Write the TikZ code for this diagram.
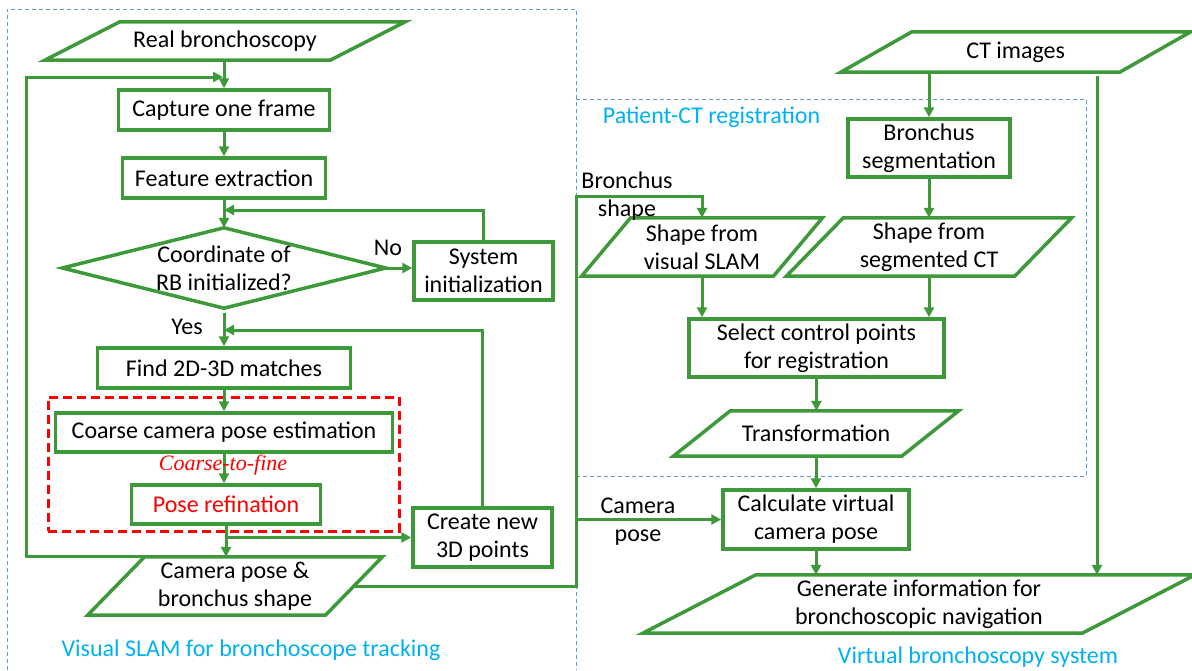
\documentclass[tikz,border=0pt]{standalone}
\usepackage{fontspec}
\setmainfont{Carlito}
\newfontfamily\annotfont{Liberation Serif}
\usetikzlibrary{arrows.meta,calc}
\definecolor{flowgreen}{RGB}{61,153,57}
\definecolor{groupblue}{RGB}{91,155,213}
\definecolor{grouptext}{RGB}{0,176,240}
% parallelogram (input/output) drawn around a named text node
\newcommand\slantbox[2]{%
  \draw[boxline] ([xshift=-#2]#1.south west) -- ([xshift=#2]#1.north west)
    -- ([xshift=#2]#1.north east) -- ([xshift=-#2]#1.south east) -- cycle;}
\begin{document}
\begin{tikzpicture}[x=1pt,y=-1pt,
  font=\fontsize{24}{28}\selectfont,
  boxline/.style={draw=flowgreen, line width=3.5pt},
  procbox/.style={draw=flowgreen, line width=3.5pt, fill=white, inner sep=0pt, align=center},
  iobox/.style={inner sep=0pt, align=center},
  flow/.style={draw=flowgreen, line width=3pt, -{Triangle[length=10pt,width=10pt]}},
  group/.style={draw=groupblue, line width=1pt, dash pattern=on 4pt off 3pt},
  grouplabel/.style={text=grouptext, inner sep=0pt},
  note/.style={inner sep=0pt, align=center},
]
\useasboundingbox (0,0) rectangle (1192,670);

% group frames
\draw[group] (7,670) -- (7,9) -- (576,9) -- (576,670);
\node[group, minimum width=510pt, minimum height=377pt] (pctbox) at (831,287.5) {};
\node[draw=red, line width=3pt, dash pattern=on 9pt off 5pt, minimum width=351pt, minimum height=134pt] (finegroup) at (223.5,464) {};

% tracking column
\node[iobox, minimum width=285pt, minimum height=38pt] (rb) at (225,41) {Real bronchoscopy};
\slantbox{rb}{37.5pt}
\node[procbox, minimum width=211pt, minimum height=40pt] (cap) at (224,110) {Capture one frame};
\node[procbox, minimum width=203pt, minimum height=40pt] (feat) at (224,178) {Feature extraction};
\node[iobox, minimum width=323pt, minimum height=80pt] (dec) at (224,268) {Coordinate of\\RB initialized?};
\draw[boxline] (dec.west) -- (dec.north) -- (dec.east) -- (dec.south) -- cycle;
\node[procbox, minimum width=139pt, minimum height=58pt] (sysinit) at (483.5,271) {System\\initialization};
\node[procbox, minimum width=253pt, minimum height=40pt] (match) at (224,368) {Find 2D-3D matches};
\node[procbox, minimum width=337pt, minimum height=39pt] (coarse) at (224,432.5) {Coarse camera pose estimation};
\node[procbox, minimum width=189pt, minimum height=39pt, text=red] (refine) at (226,504.5) {Pose refination};
\node[procbox, minimum width=139pt, minimum height=59pt] (newpts) at (482.5,537.5) {Create new\\3D points};
\node[iobox, minimum width=237.5pt, minimum height=58pt] (camout) at (235,586) {Camera pose \&\\bronchus shape};
\slantbox{camout}{28.5pt}

% registration and virtual bronchoscopy column
\node[iobox, minimum width=278.5pt, minimum height=40pt] (ct) at (1015.75,52) {CT images};
\slantbox{ct}{35.5pt}
\node[procbox, minimum width=162pt, minimum height=58pt] (seg) at (929,148) {Bronchus\\segmentation};
\node[iobox, minimum width=191.5pt, minimum height=58pt] (slamshape) at (702,247) {Shape from\\visual SLAM};
\slantbox{slamshape}{24.5pt}
\node[iobox, minimum width=228pt, minimum height=58pt] (ctshape) at (929,247) {Shape from\\segmented CT};
\slantbox{ctshape}{28.5pt}
\node[procbox, minimum width=255pt, minimum height=58pt] (ctrl) at (816.5,348) {Select control points\\for registration};
\node[iobox, minimum width=228pt, minimum height=45pt] (trans) at (816,433.5) {Transformation};
\slantbox{trans}{28.5pt}
\node[procbox, minimum width=186pt, minimum height=59pt] (vcam) at (816,519.5) {Calculate virtual\\camera pose};
\node[iobox, minimum width=439pt, minimum height=58pt] (nav) at (919,604) {Generate information for\\bronchoscopic navigation};
\slantbox{nav}{56.5pt}

% junction points
\coordinate (initjoin) at (224,210);
\coordinate (mapjoin) at (224,330);
\coordinate (looptop) at (26,77);
\coordinate (framejoin) at (223,77);
\coordinate (busturn) at (576,196);
\coordinate (ctdown) at (1097,72);

% tracking loop connectors
\draw[flow] (cap.north |- rb.south) -- (cap.north);
\draw[flow] (cap.south) -- (feat.north);
\draw[flow] (feat.south) -- (dec.north);
\draw[flow] (dec.east) -- (dec.east -| sysinit.west);
\draw[flow] (sysinit.north) |- (initjoin);
\draw[flow, shorten <=5pt] (dec.south) -- (dec.south |- match.north);
\draw[flow] (match.south) -- (coarse.north);
\draw[flow] (coarse.south) -- (coarse.south |- refine.north);
\draw[flow] (refine.south) -- (refine.south |- camout.north);
\draw[flow] (refine.south |- newpts.west) -- (newpts.west);
\draw[flow] (newpts.north) |- (mapjoin);
\draw[flow] ([xshift=28.5pt]camout.north west) -| (looptop) -- (framejoin);

% outputs of tracking
\draw[flow] (camout.east) -| (busturn) -| (slamshape.north);
\draw[flow] (busturn |- vcam.west) -- (vcam.west);

% registration connectors
\draw[flow] (ct.south -| seg.north) -- (seg.north);
\draw[flow, shorten <=4pt] (ctdown) -- (ctdown |- nav.north);
\draw[flow] (seg.south) -- (seg.south |- ctshape.north);
\draw[flow] (slamshape.south) -- (slamshape.south |- ctrl.north);
\draw[flow] (ctshape.south) -- (ctshape.south |- ctrl.north);
\draw[flow] (ctrl.south) -- (ctrl.south |- trans.north);
\draw[flow] (trans.south) -- (trans.south |- vcam.north);
\draw[flow] (vcam.south) -- (vcam.south |- nav.north);

% labels
\node[note] (nolabel) at (388,248) {No};
\node[note] (yeslabel) at (187,327) {Yes};
\node[note] (shapelabel) at (627,196) {Bronchus\\shape};
\node[note] (poselabel) at (638,522) {Camera\\pose};
\node[note, text=red, font=\annotfont\itshape\fontsize{22}{26}\selectfont] (c2f) at (223,465) {Coarse-to-fine};
\node[grouplabel] (slamlabel) at (251,650) {Visual SLAM for bronchoscope tracking};
\node[grouplabel] (pctlabel) at (711.5,117) {Patient-CT registration};
\node[grouplabel] (vbslabel) at (978,657) {Virtual bronchoscopy system};
\end{tikzpicture}
\end{document}
